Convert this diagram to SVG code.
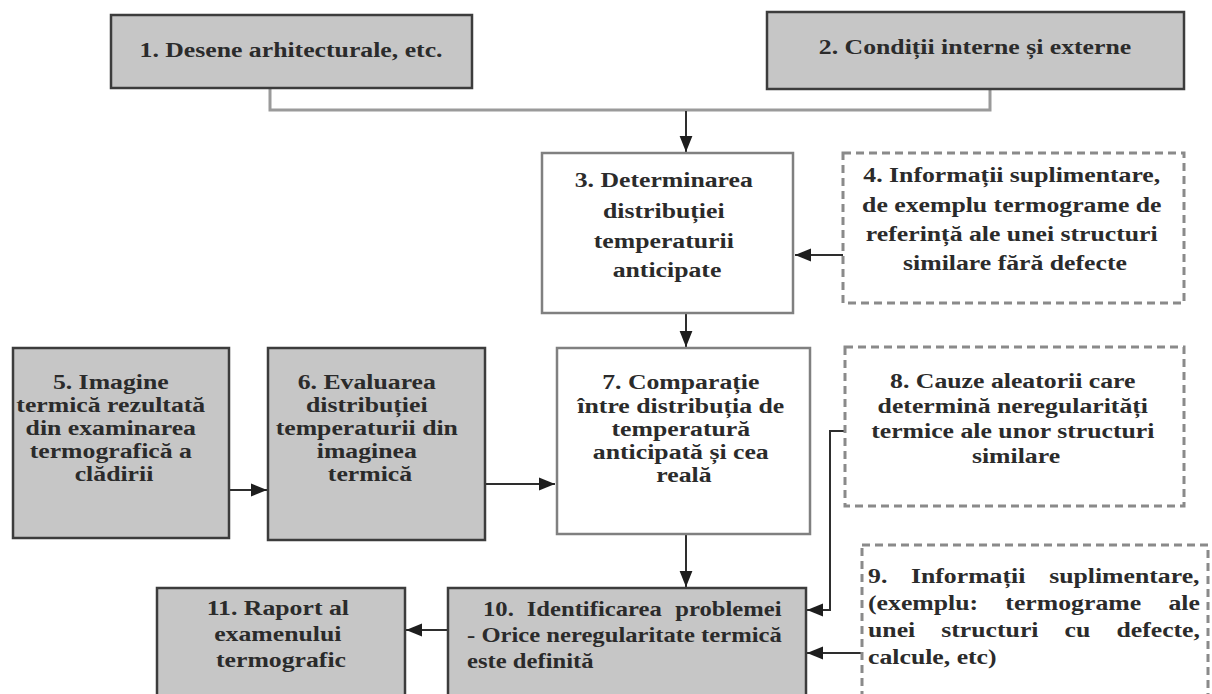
<svg xmlns="http://www.w3.org/2000/svg" width="1212" height="694" viewBox="0 0 1212 694">
<defs>
<style>
.g{fill:#c6c6c6;stroke:#3c3c3c;stroke-width:2.5}
.w{fill:#ffffff;stroke:#808080;stroke-width:2.5}
.d{fill:#ffffff;stroke:#8a8a8a;stroke-width:3;stroke-dasharray:8 5}
.t{font-family:"Liberation Serif","Times New Roman",serif;font-size:22px;font-weight:bold;fill:#2b2b2b}
.c{text-anchor:middle}
.ln{fill:none;stroke:#2e2e2e;stroke-width:2}
.lg{fill:none;stroke:#9a9a9a;stroke-width:3}
</style>
<marker id="ah" viewBox="0 0 10 10" refX="10" refY="5" markerWidth="16" markerHeight="16" markerUnits="userSpaceOnUse" orient="auto">
<path d="M0,1 L10,5 L0,9 z" fill="#1e1e1e"/>
</marker>
</defs>
<rect width="1212" height="694" fill="#ffffff"/>

<g id="connectors">
<path class="lg" d="M270,88 V110 H990 V89"/>
<path class="ln" d="M686,111 V152" marker-end="url(#ah)"/>
<path class="ln" d="M843,255 H795" marker-end="url(#ah)"/>
<path class="ln" d="M686,313 V347" marker-end="url(#ah)"/>
<path class="ln" d="M229,490 H267" marker-end="url(#ah)"/>
<path class="ln" d="M485,484 H555" marker-end="url(#ah)"/>
<path class="ln" d="M686,534 V587" marker-end="url(#ah)"/>
<path class="ln" d="M845,431 H830 V610 H807" marker-end="url(#ah)"/>
<path class="ln" d="M862,653 H807" marker-end="url(#ah)"/>
<path class="ln" d="M447,630 H406" marker-end="url(#ah)"/>
</g>

<g id="n1">
<rect class="g" x="111" y="15" width="361" height="73"/>
<text class="t c" transform="translate(291,0) scale(1.17,1)"><tspan x="0" y="57">1. Desene arhitecturale, etc.</tspan></text>
</g>

<g id="n2">
<rect class="g" x="767" y="12" width="417" height="77"/>
<text class="t c" transform="translate(975,0) scale(1.17,1)"><tspan x="0" y="54">2. Condiții interne și externe</tspan></text>
</g>

<g id="n3">
<rect class="w" x="542" y="153" width="251" height="160"/>
<text class="t c" transform="translate(667,0) scale(1.17,1)">
<tspan x="0" y="187">3. Determinarea</tspan>
<tspan x="0" y="218">distribuției</tspan>
<tspan x="0" y="248">temperaturii</tspan>
<tspan x="0" y="277">anticipate</tspan>
</text>
</g>

<g id="n4">
<rect class="d" x="843" y="153" width="341" height="150"/>
<text class="t c" transform="translate(1015,0) scale(1.17,1)">
<tspan x="0" y="182">4. Informații suplimentare,</tspan>
<tspan x="0" y="212">de exemplu termograme de</tspan>
<tspan x="0" y="241">referință ale unei structuri</tspan>
<tspan x="0" y="270">similare fără defecte</tspan>
</text>
</g>

<g id="n5">
<rect class="g" x="13" y="348" width="216" height="190"/>
<text class="t c" transform="translate(114,0) scale(1.17,1)">
<tspan x="0" y="389">5. Imagine</tspan>
<tspan x="0" y="412">termică rezultată</tspan>
<tspan x="0" y="435">din examinarea</tspan>
<tspan x="0" y="458">termografică a</tspan>
<tspan x="0" y="481">clădirii</tspan>
</text>
</g>

<g id="n6">
<rect class="g" x="268" y="348" width="217" height="192"/>
<text class="t c" transform="translate(370,0) scale(1.17,1)">
<tspan x="0" y="389">6. Evaluarea</tspan>
<tspan x="0" y="412">distribuției</tspan>
<tspan x="0" y="435">temperaturii din</tspan>
<tspan x="0" y="458">imaginea</tspan>
<tspan x="0" y="481">termică</tspan>
</text>
</g>

<g id="n7">
<rect class="w" x="557" y="348" width="253" height="186"/>
<text class="t c" transform="translate(684,0) scale(1.17,1)">
<tspan x="0" y="389">7. Comparație</tspan>
<tspan x="0" y="413">între distribuția de</tspan>
<tspan x="0" y="436">temperatură</tspan>
<tspan x="0" y="459">anticipată și cea</tspan>
<tspan x="0" y="482">reală</tspan>
</text>
</g>

<g id="n8">
<rect class="d" x="845" y="347" width="339" height="159"/>
<text class="t c" transform="translate(1016,0) scale(1.17,1)">
<tspan x="0" y="388">8. Cauze aleatorii care</tspan>
<tspan x="0" y="413">determină neregularități</tspan>
<tspan x="0" y="438">termice ale unor structuri</tspan>
<tspan x="0" y="463">similare</tspan>
</text>
</g>

<g id="n9">
<rect class="d" x="862" y="545" width="346" height="160"/>
<text class="t" transform="scale(1.17,1)">
<tspan x="741.9" y="583">9.</tspan><tspan x="778.6" y="583">Informații</tspan><tspan x="896.7" y="583">suplimentare,</tspan>
<tspan x="741.9" y="610">(exemplu:</tspan><tspan x="859.3" y="610">termograme</tspan><tspan x="998.7" y="610">ale</tspan>
<tspan x="741.9" y="637">unei</tspan><tspan x="804.5" y="637">structuri</tspan><tspan x="909.9" y="637">cu</tspan><tspan x="954.2" y="637">defecte,</tspan>
<tspan x="741.9" y="664">calcule, etc)</tspan>
</text>
</g>

<g id="n10">
<rect class="g" x="448" y="588" width="358" height="120"/>
<text class="t" transform="scale(1.12,1)">
<tspan x="431.3" y="616">10.</tspan><tspan x="470.3" y="616">Identificarea</tspan><tspan x="602.9" y="616">problemei</tspan>
<tspan x="417" y="642">- Orice neregularitate termică</tspan>
<tspan x="417" y="668">este definită</tspan>
</text>
</g>

<g id="n11">
<rect class="g" x="157" y="588" width="248" height="120"/>
<text class="t c" transform="translate(281,0) scale(1.17,1)">
<tspan x="0" y="615">11. Raport al</tspan>
<tspan x="0" y="641">examenului</tspan>
<tspan x="0" y="667">termografic</tspan>
</text>
</g>
</svg>
